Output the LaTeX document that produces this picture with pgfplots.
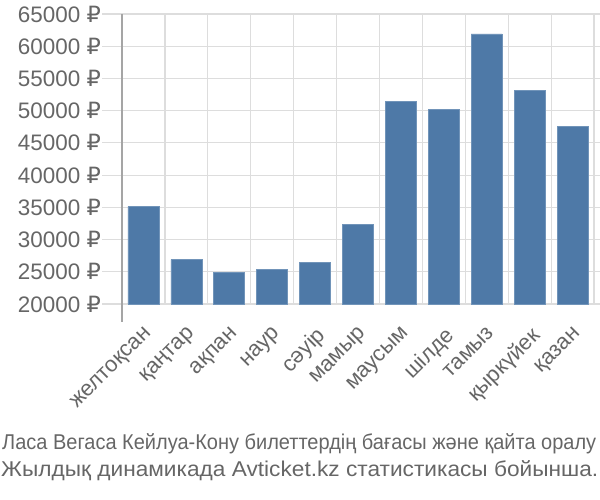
\documentclass[border=0pt]{standalone}
\usepackage{graphicx}
\usepackage{pgfplots}
\pgfplotsset{compat=1.18}
\usepackage{fontspec}
\setmainfont{Liberation Sans}
\newfontfamily\rubfont{DejaVu Sans}
\newcommand{\rub}{{\rubfont ₽}}
\definecolor{barc}{RGB}{78,121,167}
\definecolor{gridc}{RGB}{221,221,221}
\definecolor{txt}{RGB}{102,102,102}
\definecolor{axc}{RGB}{165,165,165}
\begin{document}
\begin{tikzpicture}[x=1bp,y=1bp]
\path[use as bounding box] (0,0) rectangle (600,500);
\begin{axis}[
  at={(122bp,196bp)}, anchor=south west,
  scale only axis, width=472bp, height=290bp,
  xmin=-0.5, xmax=10.5, ymin=20000, ymax=65000,
  clip=false, scaled y ticks=false, scaled x ticks=false,
  axis line style={draw=none},
  ytick={20000,25000,30000,35000,40000,45000,50000,55000,60000,65000},
  yticklabels={20000 \rub,25000 \rub,30000 \rub,35000 \rub,40000 \rub,45000 \rub,50000 \rub,55000 \rub,60000 \rub,65000 \rub},
  ymajorgrids, grid style={gridc, line width=1.2bp},
  major tick length=20bp, tick align=outside,
  ytick style={gridc, line width=1.2bp},
  yticklabel style={font=\fontsize{22.5}{26}\selectfont, text=txt, inner sep=1bp},
  xtick={0,1,2,3,4,5,6,7,8,9,10},
  xticklabels={желтоқсан,қаңтар,ақпан,наур,сәуір,мамыр,маусым,шілде,тамыз,қыркүйек,қазан},
  xtick style={draw=none},
  xticklabel style={font=\fontsize{22}{26}\selectfont, text=txt, rotate=45, anchor=north east, inner sep=1bp},
  extra x ticks={-0.5,0.5,1.5,2.5,3.5,4.5,5.5,6.5,7.5,8.5,9.5,10.5},
  extra x tick labels={},
  extra x tick style={grid=major, major tick length=18bp, tick align=outside, tick style={gridc, line width=1.2bp, draw=gridc}},
  ybar, bar width=31bp,
]
\addplot[fill=barc, draw=barc!80!white, line width=0.6bp] coordinates {
(0,35100) (1,26900) (2,24900) (3,25400) (4,26400) (5,32400)
(6,51400) (7,50200) (8,61900) (9,53100) (10,47600)};
\draw[axc, line width=1.3bp] (axis cs:-0.5,65000) -- (axis cs:-0.5,20000) -- ([yshift=-18bp]axis cs:-0.5,20000);
\end{axis}
\node[anchor=base west, text=txt, font=\fontsize{21.5}{26}\selectfont, inner sep=0] at (2,50) {\resizebox{594bp}{\height}{Ласа Вегаса Кейлуа-Кону билеттердің бағасы және қайта оралу}};
\node[anchor=base west, text=txt, font=\fontsize{21.5}{26}\selectfont, inner sep=0] at (1,23.3) {\resizebox{597bp}{\height}{Жылдық динамикада Avticket.kz статистикасы бойынша.}};
\end{tikzpicture}
\end{document}
